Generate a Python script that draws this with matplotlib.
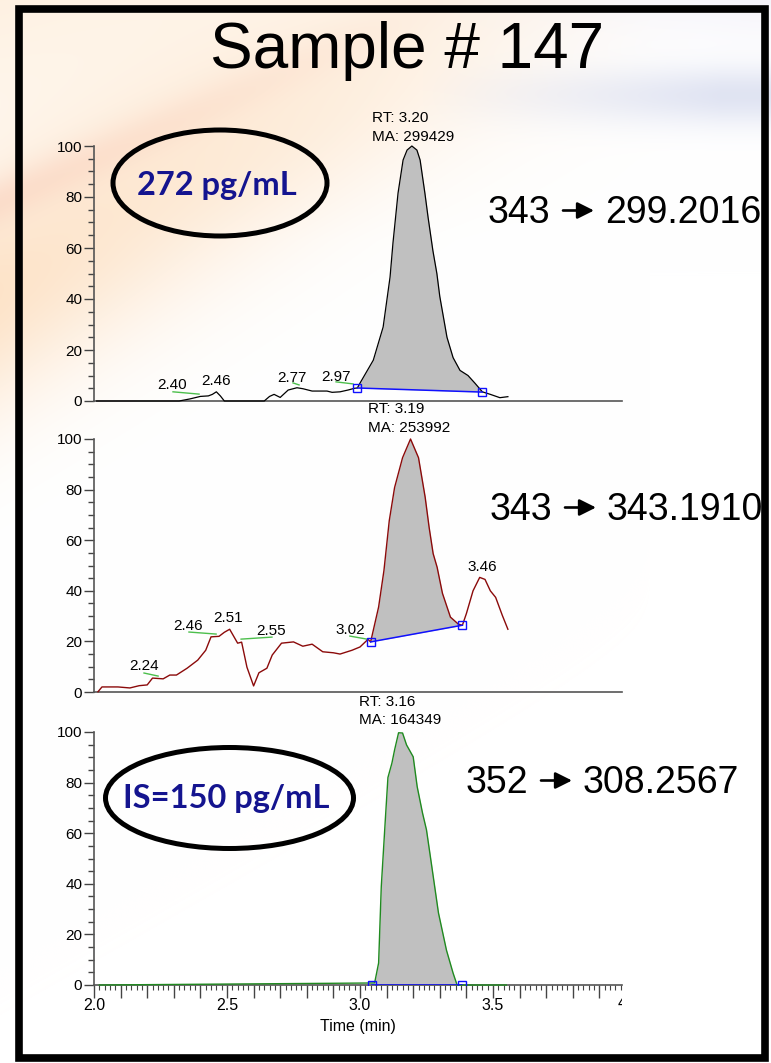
import numpy as np
import matplotlib
matplotlib.use("Agg")
from matplotlib import pyplot as plt
from matplotlib.patches import Ellipse, Rectangle
from matplotlib.ticker import MultipleLocator, FixedLocator, FuncFormatter
from matplotlib.transforms import Bbox

plt.rcParams['font.family'] = ['Liberation Sans', 'DejaVu Sans']

W, H = 771, 1063

# ---- data (time in min, relative abundance) ----
t1 = [2.010, 2.320, 2.360, 2.400, 2.430, 2.445, 2.460, 2.475, 2.490, 2.640, 2.660, 2.677,
      2.700, 2.730, 2.763, 2.786, 2.820, 2.876, 2.895, 2.925, 2.955, 2.980, 2.990, 3.000,
      3.050, 3.087, 3.113, 3.124, 3.143, 3.162, 3.177, 3.195, 3.214, 3.226, 3.244, 3.256,
      3.274, 3.289, 3.300, 3.327, 3.350, 3.376, 3.406, 3.432, 3.460, 3.490, 3.526, 3.556]
i1 = [0.0, 0.0, 0.8, 1.8, 2.0, 2.6, 3.6, 2.0, 0.0, 0.0, 1.8, 2.6,
      1.4, 4.3, 5.2, 4.8, 3.9, 3.9, 3.4, 3.6, 4.3, 5.0, 5.1, 7.0,
      16.0, 29.0, 48.6, 62.0, 81.5, 94.5, 98.4, 100.0, 98.4, 94.5, 81.5, 72.0,
      59.0, 50.0, 41.0, 25.0, 17.0, 12.0, 10.0, 7.0, 3.6, 2.6, 1.3, 1.7]

t2 = [2.015, 2.030, 2.090, 2.135, 2.170, 2.200, 2.220, 2.260, 2.285, 2.310, 2.350, 2.390,
      2.420, 2.440, 2.470, 2.490, 2.510, 2.540, 2.555, 2.575, 2.600, 2.620, 2.650, 2.670,
      2.705, 2.750, 2.785, 2.820, 2.860, 2.900, 2.925, 2.970, 3.000, 3.030, 3.040, 3.070,
      3.090, 3.110, 3.130, 3.160, 3.190, 3.220, 3.245, 3.260, 3.275, 3.290, 3.310, 3.340,
      3.370, 3.385, 3.400, 3.425, 3.450, 3.470, 3.490, 3.510, 3.535, 3.556]
i2 = [0.1, 2.0, 2.0, 1.6, 2.5, 2.8, 5.5, 5.2, 6.7, 6.7, 9.4, 12.6,
      16.5, 21.8, 22.0, 23.6, 24.8, 19.3, 19.7, 9.8, 2.4, 7.6, 9.4, 14.6,
      19.3, 19.8, 18.1, 18.9, 15.9, 15.5, 15.0, 16.5, 17.8, 20.8, 19.8, 33.6,
      48.0, 67.7, 80.8, 92.6, 100.0, 92.6, 77.0, 65.0, 54.7, 49.3, 39.0, 29.6,
      26.8, 26.4, 31.0, 40.0, 45.3, 44.5, 40.0, 37.4, 30.3, 24.8]

t3 = [2.020, 3.055, 3.070, 3.080, 3.095, 3.105, 3.120, 3.130, 3.145, 3.160, 3.175,
      3.200, 3.215, 3.235, 3.250, 3.270, 3.295, 3.325, 3.350, 3.365, 3.550]
i3 = [0.0, 0.8, 8.7, 38.9, 65.0, 82.0, 87.7, 92.9, 99.7, 99.6, 94.9,
      90.2, 78.4, 68.0, 61.3, 46.8, 28.5, 13.8, 4.7, 0.0, 0.0]

# integration baselines (start, end) as (time, level)
base1 = [(2.990, 5.1), (3.460, 3.5)]
base2 = [(3.040, 19.8), (3.385, 26.4)]
base3 = [(3.045, 0.0), (3.385, 0.0)]

# peak labels: text, label position, tick line
labels1 = ['2.40', '2.46', '2.77', '2.97']
lab_pos1 = [(2.293, 6.1), (2.459, 7.8), (2.744, 9.2), (2.910, 9.4)]
lab_line1 = [((2.297, 3.6), (2.395, 2.7)), None, ((2.748, 7.1), (2.771, 6.3)),
             ((2.910, 7.5), (2.974, 6.7))]

labels2 = ['2.24', '2.46', '2.51', '2.55', '3.02', '3.46']
lab_pos2 = [(2.188, 10.1), (2.353, 25.9), (2.504, 29.1), (2.665, 24.1), (2.962, 24.5),
            (3.459, 49.4)]
lab_line2 = [((2.188, 7.5), (2.241, 6.3)), ((2.357, 23.7), (2.459, 22.9)), None,
             ((2.553, 20.9), (2.669, 21.7)), ((2.962, 22.1), (3.026, 20.9)), None]

rt_text = ['RT: 3.20', 'RT: 3.19', 'RT: 3.16']
ma_text = ['MA: 299429', 'MA: 253992', 'MA: 164349']
rt_left = [3.045, 3.030, 2.996]

precursor = ['343', '343', '352']
product = ['299.2016', '343.1910', '308.2567']
conc_text = ['272 pg/mL', 'IS=150 pg/mL']


def px(x, y):
    return x / W, 1 - y / H


def rect(x0, ytop, x1, ybot):
    return [x0 / W, 1 - ybot / H, (x1 - x0) / W, (ybot - ytop) / H]


fig = plt.figure(figsize=(W / 100, H / 100), dpi=100)

# slide background (soft swoosh)
bg = fig.add_axes([0, 0, 1, 1], zorder=-10)
yy, xx = np.mgrid[0:H, 0:W].astype(float)
img = np.ones((H, W, 3))
w_or = np.exp(-((yy - (290 - 0.55 * xx)) / 120) ** 2) * np.clip(1 - xx / 650, 0, 1) * 0.38
w_top = np.clip(1 - yy / 240, 0, 1) * np.clip(1 - xx / 700, 0, 1) * 0.3
w_red = np.exp(-((yy - (200 - 0.45 * xx)) / 25) ** 2) * np.clip(1 - xx / 500, 0, 1) * 0.18
w_bl = np.exp(-((yy - 95) / 30) ** 2) * np.clip((xx - 420) / 300, 0, 1) * 0.35
w_bl2 = np.clip(1 - yy / 60, 0, 1) * np.clip((xx - 400) / 350, 0, 1) * 0.15
for w, c in [(w_top, (0.99, 0.82, 0.62)), (w_or, (0.98, 0.72, 0.45)),
             (w_red, (0.95, 0.58, 0.48)), (w_bl, (0.66, 0.70, 0.86)),
             (w_bl2, (0.75, 0.72, 0.88))]:
    for k in range(3):
        img[:, :, k] = img[:, :, k] * (1 - w) + c[k] * w
bg.imshow(img, extent=[0, W, H, 0], aspect='auto', interpolation='bilinear')
bg.set_xlim(0, W)
bg.set_ylim(H, 0)
bg.axis('off')

# black frame of the slide
fig.patches.append(Rectangle(px(19, 1058), 746 / W, 1049 / H, transform=fig.transFigure,
                             fill=False, edgecolor='black', linewidth=5.5, zorder=5))

fig.text(*px(407, 68), 'Sample # 147', fontsize=46, ha='center', va='baseline')

axes_px = [(146, 401), (439, 692), (732, 985)]
traces = [(t1, i1, 'black', 0.9), (t2, i2, '#8b0a0a', 1.0), (t3, i3, '#1f8a1f', 1.0)]
bases = [base1, base2, base3]
all_labels = [(labels1, lab_pos1, lab_line1), (labels2, lab_pos2, lab_line2), ([], [], [])]
rt_y = [(111.0, 103.6), (111.9, 104.3), (111.7, 104.9)]

axs = []
for n, (ytop, ybot) in enumerate(axes_px):
    ax = fig.add_axes(rect(94, ytop, 622, ybot))
    ax.patch.set_alpha(0)
    t, v, col, lw = traces[n]
    t = np.array(t)
    v = np.array(v)
    (a, ya), (b, yb) = bases[n]
    m = (t >= a - 1e-9) & (t <= b + 1e-9)
    tt = t[m]
    bl = np.interp(tt, [a, b], [ya, yb])
    ax.fill_between(tt, v[m], bl, color='#c0c0c0', linewidth=0, zorder=1)
    ax.plot(t, v, color=col, linewidth=lw, zorder=3, clip_on=False)
    ax.plot([a, b], [ya, yb], color='#1010ff', linewidth=1.1, zorder=4)
    ax.plot([a, b], [ya, yb], 's', ms=5.5, mfc='none', mec='#1010ff', mew=1.0, zorder=5)

    labs, pos, lines = all_labels[n]
    for s, p, ln in zip(labs, pos, lines):
        ax.text(p[0], p[1], s, fontsize=11, ha='center', va='center', zorder=6)
        if ln is not None:
            ax.plot([ln[0][0], ln[1][0]], [ln[0][1], ln[1][1]], color='#4cbf4c',
                    linewidth=1.0, zorder=2)

    ax.text(rt_left[n], rt_y[n][0], rt_text[n], fontsize=11, ha='left', va='center',
            clip_on=False)
    ax.text(rt_left[n], rt_y[n][1], ma_text[n], fontsize=11, ha='left', va='center',
            clip_on=False)

    ax.set_xlim(2.0, 3.985)
    ax.set_ylim(0, 100)
    for s in ['top', 'right']:
        ax.spines[s].set_visible(False)
    for s in ['left', 'bottom']:
        ax.spines[s].set_color('#555555')
        ax.spines[s].set_linewidth(1.2)
        ax.spines[s].set_zorder(2)
    ax.yaxis.set_major_locator(MultipleLocator(20))
    ax.yaxis.set_minor_locator(MultipleLocator(5))
    ax.tick_params(axis='y', which='major', direction='out', length=7, width=1,
                   color='#444444', labelsize=11, pad=1.5)
    ax.tick_params(axis='y', which='minor', direction='out', length=4.5, width=1,
                   color='#444444')
    if n < 2:
        ax.tick_params(axis='x', which='both', bottom=False, labelbottom=False)
    axs.append(ax)

ax3 = axs[2]
ax3.xaxis.set_major_locator(FixedLocator(np.round(np.arange(2.0, 3.99, 0.1), 2)))
ax3.xaxis.set_minor_locator(MultipleLocator(0.02))
ax3.xaxis.set_major_formatter(FuncFormatter(
    lambda v, p: ('%.1f' % v) if abs(v * 2 - round(v * 2)) < 1e-6 else ''))
ax3.tick_params(axis='x', which='major', direction='out', length=6, width=1,
                color='#444444', labelsize=11.5, pad=3)
ax3.tick_params(axis='x', which='minor', direction='out', length=3.5, width=0.8,
                color='#444444')
for tk in ax3.xaxis.get_major_ticks():
    v = tk.get_loc()
    if abs(v * 2 - round(v * 2)) < 1e-6:
        tk.tick1line.set_markersize(9)
ax3.set_xlabel('Time (min)', fontsize=11.5, labelpad=5)

# the cut-off "4" at the right edge of the original screenshot
t4 = fig.text(*px(622, 1004), '4', fontsize=11.5, ha='center', va='center')
t4.set_clip_box(Bbox.from_extents(0, 0, 622, H))
t4.set_clip_on(True)

# concentration ellipses
ell = [((220, 183), 214, 106), ((229.5, 798), 248, 101)]
for (c, w, h), s, yb in zip(ell, conc_text, [195, 808]):
    fig.patches.append(Ellipse(px(*c), w / W, h / H, transform=fig.transFigure,
                               fill=False, edgecolor='black', linewidth=3.6, zorder=4))
    fig.text(px(c[0] - 3, yb)[0], px(c[0], yb)[1], s, fontsize=23.5, fontweight='bold',
             color='#14148f', family=['Lato', 'DejaVu Sans'], ha='center', va='baseline')

# transitions: precursor -> product
for pre, prod, (x, yb) in zip(precursor, product, [(488, 223), (490, 520), (466, 793)]):
    fig.text(*px(x, yb), pre, fontsize=27, ha='left', va='baseline')
    ya = H - (yb - 12.5)
    bg.annotate('', xy=(x + 106, ya), xytext=(x + 75, ya), xycoords='figure pixels',
                textcoords='figure pixels',
                arrowprops=dict(arrowstyle='-|>,head_length=0.5,head_width=0.25',
                                mutation_scale=20, lw=1.9, color='black',
                                shrinkA=0, shrinkB=0))
    fig.text(*px(x + 117, yb), prod, fontsize=27, ha='left', va='baseline')

fig.savefig('out.png', dpi=100)
